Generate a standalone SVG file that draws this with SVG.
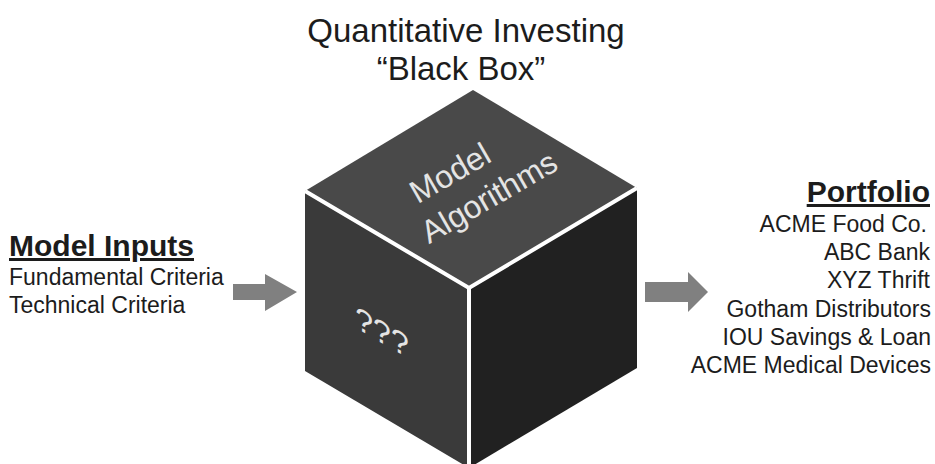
<svg xmlns="http://www.w3.org/2000/svg" width="935" height="464" viewBox="0 0 935 464">
<style>
text{font-family:"Liberation Sans",Arial,sans-serif;fill:#1c1c1c}
.title{font-size:33px}
.head{font-size:30px;font-weight:bold;text-decoration:underline}
.item{font-size:23px}
.face-t{fill:#494949}
.face-l{fill:#3a3a3a}
.face-r{fill:#212121}
.edge{fill:none;stroke:#ffffff;stroke-width:4}
.cubetxt{fill:#e4e4e4;font-size:32px}
.arrow{fill:#808080}
</style>
<rect width="935" height="464" fill="#ffffff"/>
<g id="title">
<text class="title" x="466" y="42" text-anchor="middle">Quantitative Investing</text>
<text class="title" x="461" y="80" text-anchor="middle">“Black Box”</text>
</g>
<g id="black-box">
<polygon class="face-t" points="473,90 637,188 469,288 305,191"/>
<polygon class="face-l" points="305,191 469,288 469,468 305,371"/>
<polygon class="face-r" points="469,288 637,188 637,368 469,468"/>
<polyline class="edge" points="305,191 469,288 637,188"/>
<line class="edge" x1="469" y1="288" x2="469" y2="468"/>
<text class="cubetxt" text-anchor="middle" transform="translate(450,173) rotate(-30)" y="11">Model</text>
<text class="cubetxt" text-anchor="middle" transform="translate(489,197) rotate(-30)" y="11">Algorithms</text>
<text class="cubetxt" font-size="30" text-anchor="middle" transform="translate(382,333) skewY(30)" y="10">???</text>
</g>
<g id="model-inputs">
<text class="head" x="9" y="256">Model Inputs</text>
<text class="item" x="9" y="285">Fundamental Criteria</text>
<text class="item" x="9" y="313">Technical Criteria</text>
</g>
<g id="portfolio" text-anchor="end">
<text class="head" x="930" y="202">Portfolio</text>
<text class="item" x="927" y="232">ACME Food Co.</text>
<text class="item" x="930" y="260">ABC Bank</text>
<text class="item" x="930" y="288">XYZ Thrift</text>
<text class="item" x="931" y="317">Gotham Distributors</text>
<text class="item" x="931" y="345">IOU Savings &amp; Loan</text>
<text class="item" x="931" y="373">ACME Medical Devices</text>
</g>
<g id="connectors">
<polygon class="arrow" points="233,284 265,284 265,274 297,292 265,311 265,300 233,300"/>
<polygon class="arrow" points="645,282 688,282 688,272 708,292 688,312 688,302 645,302"/>
</g>
</svg>
